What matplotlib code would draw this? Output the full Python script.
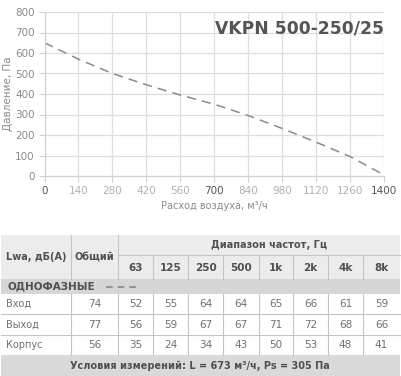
import matplotlib
matplotlib.use("Agg")
import matplotlib.pyplot as plt
import matplotlib.patches as mpatches

plt.rcParams['font.family'] = ['DejaVu Sans']

# curve data
flow = [0, 140, 280, 420, 560, 700, 840, 980, 1120, 1260, 1400]
pressure = [650, 570, 500, 445, 395, 350, 295, 232, 165, 95, 5]

x_ticks = [0, 140, 280, 420, 560, 700, 840, 980, 1120, 1260, 1400]
y_ticks = [0, 100, 200, 300, 400, 500, 600, 700, 800]

# table data
freq_labels = ["63", "125", "250", "500", "1k", "2k", "4k", "8k"]
row_names = ["Вход", "Выход", "Корпус"]
total_vals = [74, 77, 56]
band_vals = [
    [52, 55, 64, 64, 65, 66, 61, 59],
    [56, 59, 67, 67, 71, 72, 68, 66],
    [35, 24, 34, 43, 50, 53, 48, 41],
]

W, H = 401, 376
fig = plt.figure(figsize=(W / 100, H / 100), dpi=100)

# ---- chart ----
x0, x1, y0, y1 = 44.5, 384, 12, 176
ax = fig.add_axes([x0 / W, 1 - y1 / H, (x1 - x0) / W, (y1 - y0) / H])
ax.plot(flow, pressure, color="#8a8a8a", lw=1.1, dashes=(6, 4))
ax.set_xlim(0, 1400)
ax.set_ylim(0, 800)
ax.set_xticks(x_ticks)
ax.set_yticks(y_ticks)
ax.grid(True, color="#dedede", lw=0.9)
ax.set_axisbelow(True)
for s in ["top", "right"]:
    ax.spines[s].set_visible(False)
for s in ["left", "bottom"]:
    ax.spines[s].set_color("#d0d0d0")
ax.tick_params(length=4, color="#d0d0d0", labelsize=7.5, labelcolor="#8a8a8a", pad=3)
for lbl, v in zip(ax.get_xticklabels(), x_ticks):
    lbl.set_color("#555555" if v in (0, 700, 1400) else "#b0b0b0")
ax.set_ylabel("Давление, Па", fontsize=7.5, color="#8a8a8a", labelpad=1.5)
ax.set_xlabel("Расход воздуха, м³/ч", fontsize=7, color="#8a8a8a", labelpad=4)
ax.text(1.0, 0.9, "VKPN 500-250/25", transform=ax.transAxes, ha="right", va="center",
        fontsize=12.3, fontweight="bold", color="#555555")

# ---- table ----
tx = fig.add_axes([0, 0, 1, 1])
tx.set_xlim(0, W)
tx.set_ylim(H, 0)
tx.axis("off")

col_edges = [1, 71, 118, 153, 188, 223, 259, 293, 328, 363, 400]
hdr_top, hdr_mid, hdr_bot = 235, 255, 279
sec_bot = 294
row_edges = [294, 314, 335, 355]
foot_bot = 376

line_c = "#c4c4c4"
txt_dark = "#505050"
txt_val = "#707070"

tx.add_patch(mpatches.Rectangle((1, hdr_top), 399, hdr_bot - hdr_top, fc="#ececec", ec="none"))
tx.add_patch(mpatches.Rectangle((1, hdr_bot), 399, sec_bot - hdr_bot, fc="#d6d6d6", ec="none"))
tx.add_patch(mpatches.Rectangle((1, row_edges[-1]), 399, foot_bot - row_edges[-1], fc="#d9d9d9", ec="none"))

# header lines
for xe in col_edges[1:3]:
    tx.plot([xe, xe], [hdr_top, hdr_bot], color=line_c, lw=0.8)
for xe in col_edges[3:-1]:
    tx.plot([xe, xe], [hdr_mid, hdr_bot], color=line_c, lw=0.8)
tx.plot([col_edges[2], 400], [hdr_mid, hdr_mid], color=line_c, lw=0.8)

# body lines
for xe in col_edges[1:-1]:
    tx.plot([xe, xe], [row_edges[0], row_edges[-1]], color=line_c, lw=0.8)
for ye in row_edges[1:-1]:
    tx.plot([1, 400], [ye, ye], color=line_c, lw=0.8)

bold = dict(fontweight="bold", color=txt_dark, va="center")
tx.text(6, (hdr_top + hdr_bot) / 2, "Lwa, дБ(А)", fontsize=7, ha="left", **bold)
tx.text((col_edges[1] + col_edges[2]) / 2, (hdr_top + hdr_bot) / 2, "Общий", fontsize=7, ha="center", **bold)
tx.text((col_edges[2] + 400) / 2 + 10, (hdr_top + hdr_mid) / 2, "Диапазон частот, Гц", fontsize=7, ha="center", **bold)
for i, f in enumerate(freq_labels):
    xc = (col_edges[i + 2] + col_edges[i + 3]) / 2
    tx.text(xc, (hdr_mid + hdr_bot) / 2 + 1, f, fontsize=7.5, ha="center", **bold)

tx.text(7, (hdr_bot + sec_bot) / 2, "ОДНОФАЗНЫЕ", fontsize=7.5, ha="left", **bold)
tx.plot([106, 136], [(hdr_bot + sec_bot) / 2] * 2, color="#888888", lw=1.2, dashes=(4, 3))

for r, name in enumerate(row_names):
    yc = (row_edges[r] + row_edges[r + 1]) / 2
    tx.text(6, yc, name, fontsize=7, ha="left", va="center", color=txt_val)
    vals = [total_vals[r]] + band_vals[r]
    for c, v in enumerate(vals):
        xc = (col_edges[c + 1] + col_edges[c + 2]) / 2
        tx.text(xc, yc, str(v), fontsize=7.5, ha="center", va="center", color=txt_val)

tx.text(200, (row_edges[-1] + foot_bot) / 2, "Условия измерений: L = 673 м³/ч, Ps = 305 Па",
        fontsize=7, ha="center", **bold)

fig.savefig("out.png", dpi=100)
